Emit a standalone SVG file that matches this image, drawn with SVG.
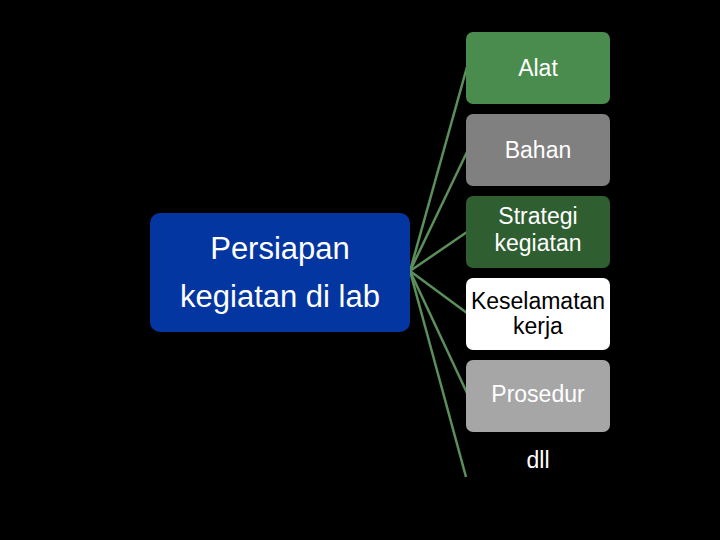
<svg xmlns="http://www.w3.org/2000/svg" width="720" height="540" viewBox="0 0 720 540">
<style>
.t{font-family:"Liberation Sans",Arial,sans-serif;font-size:23px;text-anchor:middle;fill:#fff}
.c{stroke:#5b8f5b;stroke-width:2.5;fill:none}
</style>
<rect width="720" height="540" fill="#000"/>
<g id="connectors">
<line class="c" x1="410" y1="271" x2="467" y2="67"/>
<line class="c" x1="410" y1="271" x2="467" y2="152"/>
<line class="c" x1="410" y1="271" x2="467" y2="232"/>
<line class="c" x1="410" y1="271" x2="467" y2="313"/>
<line class="c" x1="410" y1="271" x2="467" y2="393"/>
<line class="c" x1="410" y1="271" x2="466" y2="477"/>
</g>
<g id="center">
<rect x="150" y="213" width="260" height="119" rx="10" fill="#0336a0"/>
<text class="t" x="280" y="259" style="font-size:31px">Persiapan</text>
<text class="t" x="280" y="307" style="font-size:31px">kegiatan di lab</text>
</g>
<g id="alat">
<rect x="466" y="32" width="144" height="72" rx="7" fill="#4a8b4e"/>
<text class="t" x="538" y="76">Alat</text>
</g>
<g id="bahan">
<rect x="466" y="114" width="144" height="72" rx="7" fill="#808080"/>
<text class="t" x="538" y="158">Bahan</text>
</g>
<g id="strategi">
<rect x="466" y="196" width="144" height="72" rx="7" fill="#2f5e31"/>
<text class="t" x="538" y="224">Strategi</text>
<text class="t" x="538" y="251">kegiatan</text>
</g>
<g id="keselamatan">
<rect x="466" y="278" width="144" height="72" rx="7" fill="#fff"/>
<text class="t" x="538" y="309" style="fill:#000">Keselamatan</text>
<text class="t" x="538" y="334" style="fill:#000">kerja</text>
</g>
<g id="prosedur">
<rect x="466" y="360" width="144" height="72" rx="7" fill="#a6a6a6"/>
<text class="t" x="538" y="402">Prosedur</text>
</g>
<g id="dll">
<text class="t" x="538" y="468">dll</text>
</g>
</svg>
